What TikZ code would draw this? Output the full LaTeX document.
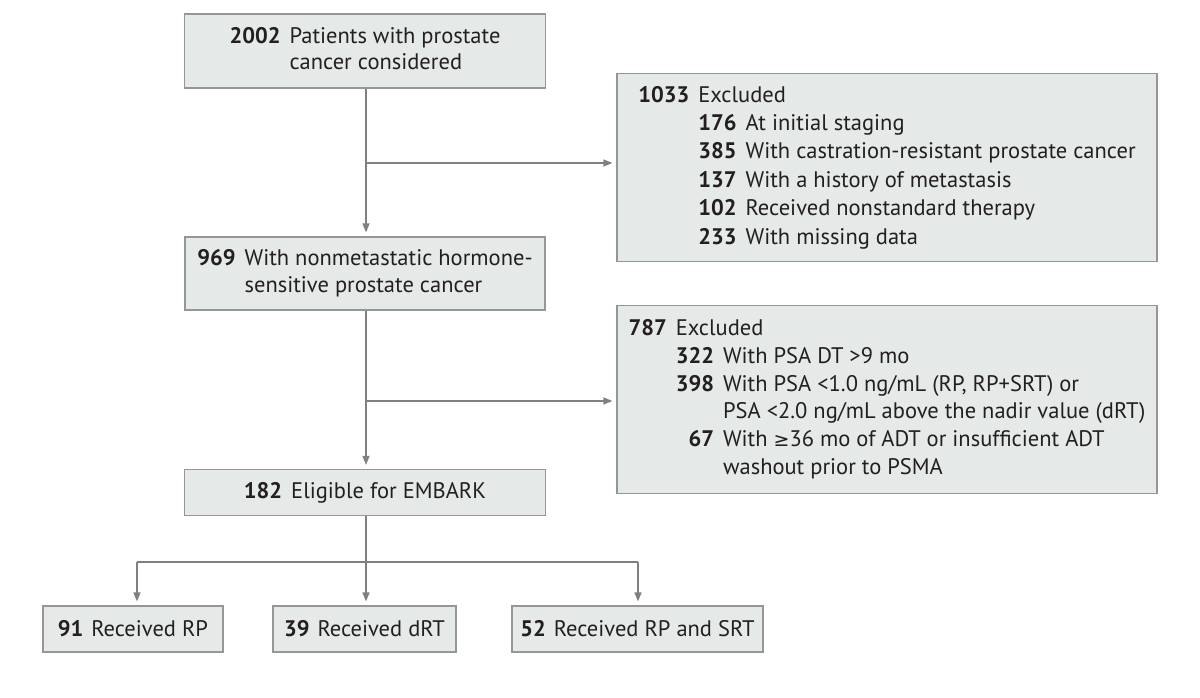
\documentclass[tikz,border=0pt]{standalone}
\usepackage{fontspec}
\setmainfont{PT Sans}
\newfontfamily\symfont{DejaVu Sans}
\usetikzlibrary{arrows.meta}
\definecolor{boxfill}{RGB}{229,233,231}
\definecolor{boxline}{RGB}{150,150,150}
\definecolor{arrline}{RGB}{128,128,128}
\definecolor{txt}{RGB}{35,31,32}
\newcommand{\nb}[1]{\textbf{#1}}
\begin{document}
\begin{tikzpicture}[x=1pt,y=-1pt,
  box/.style={draw=boxline, fill=boxfill, line width=1.2pt, inner sep=0pt, text=txt,
    font=\fontsize{22.5}{26.5}\selectfont, align=center},
  arr/.style={draw=arrline, line width=1.3pt, shorten >=4pt, -{Triangle[length=9pt,width=7pt]}},
  ln/.style={draw=arrline, line width=1.3pt}]
\useasboundingbox (0,0) rectangle (1200,698);
\fill[white] (0,0) rectangle (1200,698);

\node[box, minimum width=361, minimum height=74] (b1) at (365,51)
  {\begin{tabular}{@{}r@{\hspace{0.4em}}l@{}}\nb{2002} & Patients with prostate\\ & cancer considered\end{tabular}};

\node[box, minimum width=540, minimum height=188] (e1) at (887,167.5)
  {\def\arraystretch{1.07}\begin{tabular}{@{}l@{\hspace{0.4em}}r@{\hspace{0.4em}}l@{}}
   \nb{1033} & \multicolumn{2}{@{}l@{}}{Excluded}\\
   & \nb{176} & At initial staging\\
   & \nb{385} & With castration-resistant prostate cancer\\
   & \nb{137} & With a history of metastasis\\
   & \nb{102} & Received nonstandard therapy\\
   & \nb{233} & With missing data
  \end{tabular}};

\node[box, minimum width=360, minimum height=73] (b2) at (365,273.5)
  {\begin{tabular}{@{}r@{\hspace{0.4em}}l@{}}\nb{969} & With nonmetastatic hormone-\\ & sensitive prostate cancer\end{tabular}};

\node[box, minimum width=540, minimum height=188] (e2) at (887,399.5)
  {\def\arraystretch{1.05}\begin{tabular}{@{}l@{\hspace{0.4em}}r@{\hspace{0.4em}}l@{}}
   \nb{787} & \multicolumn{2}{@{}l@{}}{Excluded}\\
   & \nb{322} & With PSA DT >9 mo\\
   & \nb{398} & With PSA <1.0 ng/mL (RP, RP+SRT) or\\
   & & PSA <2.0 ng/mL above the nadir value (dRT)\\
   & \nb{67} & With {\symfont\fontsize{19}{26}\selectfont ≥}36 mo of ADT or insufficient ADT\\
   & & washout prior to PSMA
  \end{tabular}};

\node[box, minimum width=361, minimum height=46] (b3) at (365,492.5)
  {\nb{182}\hspace{0.4em}Eligible for EMBARK};

\node[box, minimum width=180, minimum height=46] (c1) at (133,629)
  {\nb{91}\hspace{0.35em}Received RP};
\node[box, minimum width=183, minimum height=46] (c2) at (364.5,629)
  {\nb{39}\hspace{0.35em}Received dRT};
\node[box, minimum width=251, minimum height=46] (c3) at (637.5,629)
  {\nb{52}\hspace{0.35em}Received RP and SRT};

% connectors
\coordinate (s1) at (366,163);
\coordinate (s2) at (366,401);
\coordinate (s3) at (366,562);
\coordinate (l3) at (137,562);
\coordinate (r3) at (638,562);

\draw[arr] (b1.south -| s1) -- (b2.north -| s1);
\draw[arr] (s1) -- (s1 -| e1.west);
\draw[arr] (b2.south -| s2) -- (b3.north -| s2);
\draw[arr] (s2) -- (s2 -| e2.west);
\draw[arr] (b3.south -| s3) -- (c2.north -| s3);
\draw[ln] (l3) -- (r3);
\draw[arr] (l3) -- (l3 |- c1.north);
\draw[arr] (r3) -- (r3 |- c3.north);
\end{tikzpicture}
\end{document}
